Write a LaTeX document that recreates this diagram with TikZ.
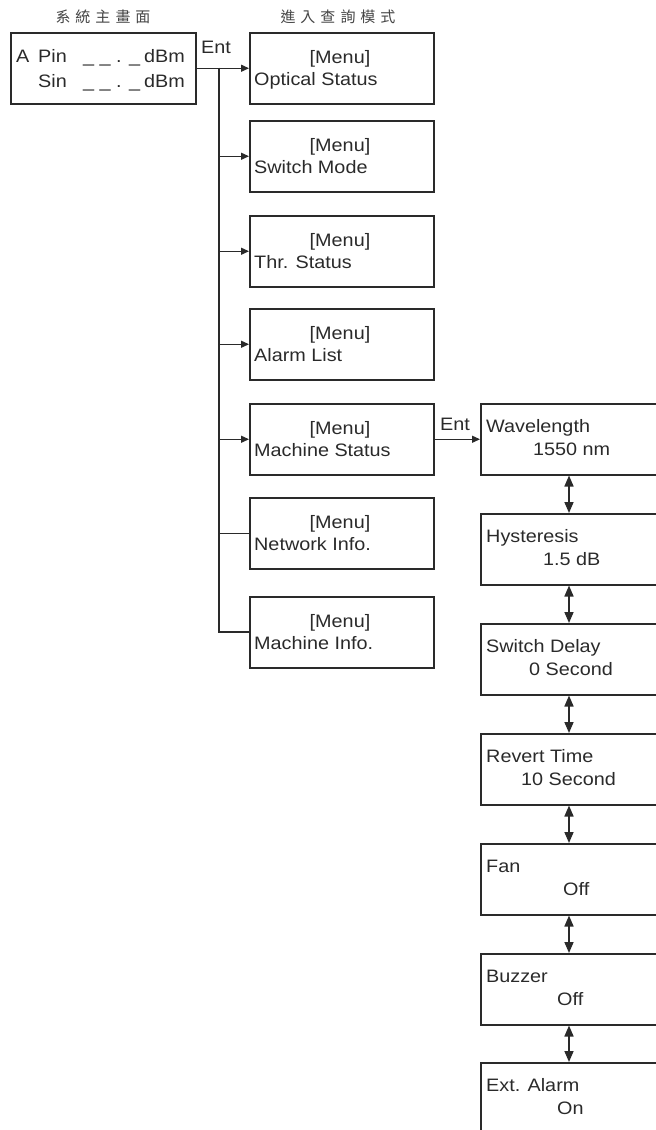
\documentclass[tikz,border=0pt]{standalone}
\usepackage{fontspec}
\setmainfont[FakeStretch=1.1]{Liberation Sans}
\newfontfamily\cjk{Noto Sans CJK TC}
\usetikzlibrary{arrows.meta}
\definecolor{ink}{HTML}{2A2A2A}
\definecolor{ttl}{HTML}{444444}
\newcommand\cjs{\hspace{5pt}}
\begin{document}
\begin{tikzpicture}[x=1pt,y=-1pt,
 box/.style={draw=ink, line width=1.5pt, minimum width=184pt, minimum height=71pt, anchor=north west, inner sep=0pt},
 rbox/.style={box, minimum width=230pt},
 txt/.style={anchor=base west, inner sep=0pt, text=ink, font=\fontsize{18}{20}\selectfont},
 ctxt/.style={txt, anchor=base},
 ttlstyle/.style={text=ttl, inner sep=0pt, font=\cjk\fontsize{15}{17}\selectfont},
 conn/.style={draw=ink, line width=1.4pt},
 spine/.style={draw=ink, line width=2pt},
 arr/.style={conn, -{Triangle[length=8pt,width=7pt]}},
 darr/.style={conn, line width=1.6pt, {Triangle[length=11pt,width=9pt]}-{Triangle[length=11pt,width=9pt]}},
]
\useasboundingbox (0,0) rectangle (656,1130);
\clip (0,0) rectangle (656,1130);

% titles
\node[ttlstyle] (t1) at (103,17) {系\cjs 統\cjs 主\cjs 畫\cjs 面};
\node[ttlstyle] (t2) at (338,17) {進\cjs 入\cjs 查\cjs 詢\cjs 模\cjs 式};

% main screen
\node[box, minimum width=185pt] (main) at (10,32) {};
\node[txt] (mA) at (16,62) {A};
\node[txt] (mP) at (38,62) {Pin};
\node[txt] (mS) at (38,87) {Sin};
\node[txt] (mu1) at (83,62) {\_ \_ . \_};
\node[txt] (mu2) at (83,87) {\_ \_ . \_};
\node[txt] (md1) at (144,62) {dBm};
\node[txt] (md2) at (144,87) {dBm};

% left column
\foreach \n/\t/\lab in {opt/32/Optical Status, sw/120/Switch Mode, thr/215/Thr. Status, al/308/Alarm List, ms/403/Machine Status, ni/497/Network Info., mi/596/Machine Info.}{
 \node[box] (\n) at (249,\t) {};
 \node[ctxt] (\n-a) at (340,\t+31) {[Menu]};
 \node[txt] (\n-b) at (254,\t+53) {\lab};
}

\node[ctxt] (ent1) at (216,53) {Ent};
\draw[arr] (main.east) -- (opt.west);
\coordinate (sptop) at (219,67.5);
\draw[spine] (sptop) |- (mi.west);
\foreach \n in {sw,thr,al,ms}{
 \draw[arr] (sptop |- \n.west) -- (\n.west);
}
\draw[conn] (sptop |- ni.west) -- (ni.west);

% right column
\foreach \n/\t/\la/\lb/\xb in {w1/403/Wavelength/1550 nm/533, w2/513/Hysteresis/1.5 dB/543, w3/623/Switch Delay/0 Second/529, w4/733/Revert Time/10 Second/521, w5/843/Fan/Off/563, w6/953/Buzzer/Off/557, w7/1062/Ext. Alarm/On/557}{
 \node[rbox] (\n) at (480,\t) {};
 \node[txt] (\n-a) at (486,\t+29) {\la};
 \node[txt] (\n-b) at (\xb,\t+52) {\lb};
}
\node[ctxt] (ent2) at (455,430) {Ent};
\draw[arr] (ms.east) -- (ms.east -| w1.west);
\foreach \a/\b in {w1/w2,w2/w3,w3/w4,w4/w5,w5/w6,w6/w7}{
 \draw[darr] ([xshift=89pt]\a.south west) -- ([xshift=89pt]\b.north west);
}
\end{tikzpicture}
\end{document}
